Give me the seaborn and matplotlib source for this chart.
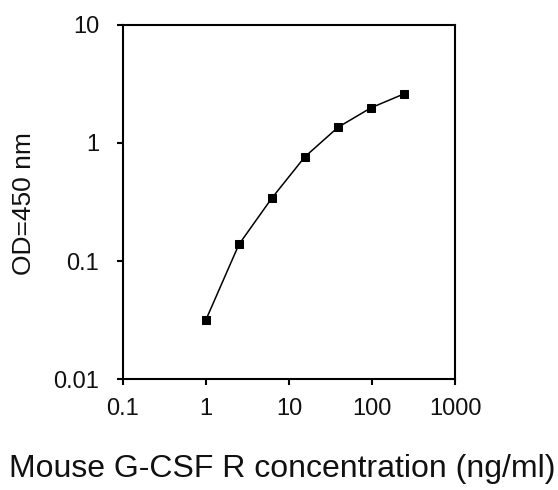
import matplotlib
matplotlib.use("Agg")
import matplotlib.pyplot as plt
import seaborn as sns
import pandas as pd
from matplotlib.ticker import FixedLocator, FixedFormatter, NullLocator

# Data
concentration = [1.0, 2.5, 6.25, 15.6, 39.1, 97.7, 244.1]
od450 = [0.0316, 0.138, 0.342, 0.765, 1.36, 1.99, 2.61]
x_ticks = [0.1, 1, 10, 100, 1000]
x_tick_labels = ["0.1", "1", "10", "100", "1000"]
y_ticks = [0.01, 0.1, 1, 10]
y_tick_labels = ["0.01", "0.1", "1", "10"]

sns.set_style("ticks")
plt.rcParams['font.family'] = ['Liberation Sans', 'DejaVu Sans']

df = pd.DataFrame({"conc": concentration, "od": od450})

fig = plt.figure(figsize=(5.58, 4.90), dpi=100)
ax = fig.add_axes([0.22, 0.2265, 0.5955, 0.7225])

sns.lineplot(data=df, x="conc", y="od", ax=ax, color="black", linewidth=1.1,
             marker="s", markersize=5.5, markeredgecolor="black",
             markerfacecolor="black")

ax.set_xscale("log")
ax.set_yscale("log")
ax.set_xlim(0.1, 1000)
ax.set_ylim(0.01, 10)

ax.xaxis.set_major_locator(FixedLocator(x_ticks))
ax.xaxis.set_major_formatter(FixedFormatter(x_tick_labels))
ax.yaxis.set_major_locator(FixedLocator(y_ticks))
ax.yaxis.set_major_formatter(FixedFormatter(y_tick_labels))
ax.xaxis.set_minor_locator(NullLocator())
ax.yaxis.set_minor_locator(NullLocator())

for sp in ax.spines.values():
    sp.set_visible(True)
    sp.set_linewidth(1.5)
    sp.set_color("black")

ax.tick_params(axis="both", which="major", direction="out", length=4,
               width=1.5, color="black", labelsize=17, labelcolor="#111111")
ax.tick_params(axis="x", pad=10)
ax.tick_params(axis="y", pad=13)

ax.set_xlabel("Mouse G-CSF R concentration (ng/ml)", fontsize=23, color="#111111")
ax.set_ylabel("OD=450 nm", fontsize=19, color="#111111")
ax.xaxis.set_label_coords(0.479, -0.212)
ax.yaxis.set_label_coords(-0.262, 0.496)

fig.savefig("out.png", dpi=100, facecolor="white")
